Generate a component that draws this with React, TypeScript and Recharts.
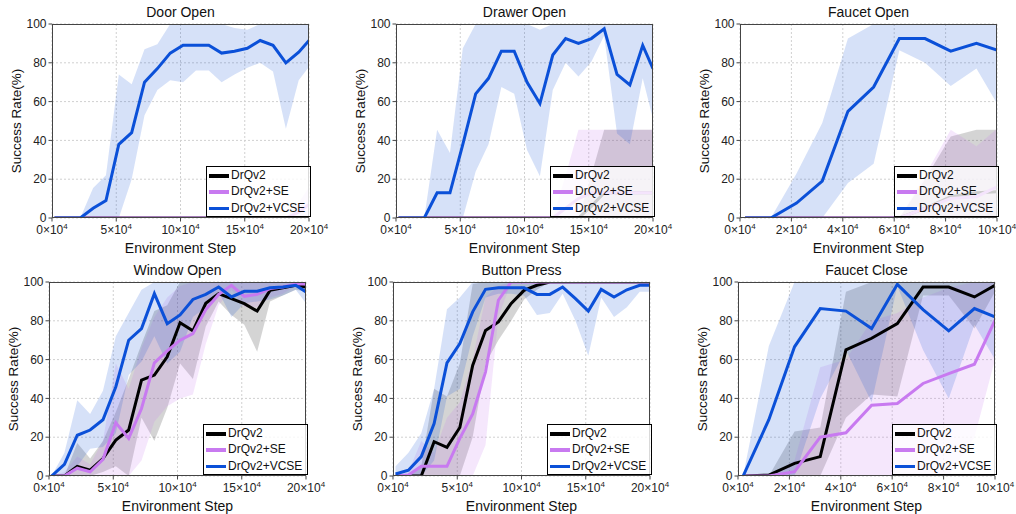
import React from 'react';
import { ComposedChart, Line, Area, XAxis, YAxis, CartesianGrid } from 'recharts';

// x positions (in units of 10^4 env steps)
const X20 = [0.2, 1.2, 2.2, 3.2, 4.2, 5.2, 6.2, 7.2, 8.2, 9.2, 10.2, 11.2, 12.2, 13.2, 14.2, 15.2, 16.2, 17.2, 18.2, 19.2, 20];
const X10 = [0.2, 1.2, 2.2, 3.2, 4.2, 5.2, 6.2, 7.2, 8.2, 9.2, 10];
const TICKS20 = [0, 5, 10, 15, 20];
const TICKS10 = [0, 2, 4, 6, 8, 10];
const YTICKS = [0, 20, 40, 60, 80, 100];

// Door Open
const doorDrq = [0, 0, 0, 0, 0, 0, 0, 0, 0, 0, 0, 0, 0, 0, 0, 0, 0, 0, 0, 0, 0];
const doorDrqLo = [0, 0, 0, 0, 0, 0, 0, 0, 0, 0, 0, 0, 0, 0, 0, 0, 0, 0, 0, 0, 0];
const doorDrqHi = [0, 0, 0, 0, 0, 0, 0, 0, 0, 0, 0, 0, 0, 0, 0, 0, 0, 0, 0, 0, 0];
const doorSe = [0, 0, 0, 0, 0, 0, 0, 0, 0, 0, 0, 0, 0, 0, 0, 0, 0, 0, 0, 3, 7];
const doorSeLo = [0, 0, 0, 0, 0, 0, 0, 0, 0, 0, 0, 0, 0, 0, 0, 0, 0, 0, 0, 0, 0];
const doorSeHi = [0, 0, 0, 0, 0, 0, 0, 0, 0, 0, 0, 0, 0, 0, 0, 0, 0, 0, 0, 8, 16];
const doorVcse = [0, 0, 0, 5, 9, 38, 44, 70, 77, 85, 89, 89, 89, 85, 86, 87.5, 91.5, 89, 80, 85.5, 91.5];
const doorVcseLo = [0, 0, 0, 0, 0, 0, 20, 53, 66, 71, 70, 76, 76, 70, 74, 77.5, 80, 75.5, 46, 71, 78];
const doorVcseHi = [0, 0, 0, 15.5, 22, 74, 69, 87, 89.5, 100, 100, 100, 100, 100, 98, 97, 100, 100, 100, 100, 100];

// Drawer Open
const drawerDrq = [0, 0, 0, 0, 0, 0, 0, 0, 0, 0, 0, 0, 0, 0, 0, 6, 13, 13, 13, 13, 13];
const drawerDrqLo = [0, 0, 0, 0, 0, 0, 0, 0, 0, 0, 0, 0, 0, 0, 0, 0, 0, 0, 0, 0, 0];
const drawerDrqHi = [0, 0, 0, 0, 0, 0, 0, 0, 0, 0, 0, 0, 0, 0, 0, 22, 45.5, 45.5, 45.5, 45.5, 45.5];
const drawerSe = [0, 0, 0, 0, 0, 0, 0, 0, 0, 0, 0, 0, 0, 5, 10, 13, 13, 13, 13, 13, 13];
const drawerSeLo = [0, 0, 0, 0, 0, 0, 0, 0, 0, 0, 0, 0, 0, 0, 0, 0, 0, 0, 0, 0, 0];
const drawerSeHi = [0, 0, 0, 0, 0, 0, 0, 0, 0, 0, 0, 0, 0, 22, 45.5, 45.5, 45.5, 45.5, 45.5, 45.5, 45.5];
const drawerVcse = [0, 0, 0, 13, 13, 38, 64, 72, 86, 86, 70, 59, 84, 92.5, 90, 92.5, 97.5, 74, 68.6, 89, 77];
const drawerVcseLo = [0, 0, 0, 0, 0, 0, 24, 38, 67.5, 64, 35, 21.5, 66, 80, 73, 80.5, 94, 43.5, 38, 72, 51];
const drawerVcseHi = [0, 0, 0, 45.5, 33.5, 87.5, 100, 100, 100, 100, 100, 97, 100, 100, 100, 100, 100, 100, 100, 100, 100];

// Faucet Open
const fOpenDrq = [0, 0, 0, 0, 0, 0, 0, 5, 11, 13, 13.5];
const fOpenDrqLo = [0, 0, 0, 0, 0, 0, 0, 0, 0, 0, 0];
const fOpenDrqHi = [0, 0, 0, 0, 0, 0, 0, 20, 42, 45.5, 45.5];
const fOpenSe = [0, 0, 0, 0, 0, 0, 0, 5, 10, 11, 16];
const fOpenSeLo = [0, 0, 0, 0, 0, 0, 0, 0, 0, 0, 0];
const fOpenSeHi = [0, 0, 0, 0, 0, 0, 0, 22, 45.5, 37, 46];
const fOpenVcse = [0, 0, 7.7, 19, 55, 67.5, 92.5, 92.5, 86, 90, 86.5];
const fOpenVcseLo = [0, 0, 0, 0, 18, 28, 86.5, 80, 68, 77, 59];
const fOpenVcseHi = [0, 0, 23, 49, 92.5, 100, 100, 100, 100, 100, 100];

// Window Open
const winDrq = [0, 0, 5, 3, 9, 18.5, 23.7, 49.4, 52, 61.4, 79, 74.8, 89, 94, 91.4, 88.8, 85, 95.7, 97, 98.3, 97.4];
const winDrqLo = [0, 0, 0, 0, 2, 5, 0, 30, 18, 35, 58, 50, 77, 90, 83, 78, 64, 90, 93, 96, 95];
const winDrqHi = [0, 0, 17, 9, 18, 33, 50, 68, 85, 88, 100, 100, 100, 100, 100, 100, 100, 100, 100, 100, 100];
const winSe = [0, 0, 4, 2.2, 8.6, 27.4, 19.4, 34.8, 58.3, 64.5, 70, 73.4, 85.8, 93.6, 98.3, 92.6, 93.6, 96.6, 97.4, 99, 99];
const winSeLo = [0, 0, 0, 0, 0, 0, 0, 8, 28, 36, 40, 42, 68, 88, 96, 87, 87, 92, 94, 98, 98];
const winSeHi = [0, 2, 10, 6, 18, 58, 45, 66, 82, 92, 98, 100, 100, 100, 100, 100, 100, 100, 100, 100, 100];
const winVcse = [0, 6, 21, 23.7, 29, 46, 70, 76, 94, 78.5, 83, 91, 93.6, 97.4, 92.3, 95.2, 95.2, 97, 97.4, 98.3, 94.9];
const winVcseLo = [0, 0, 5, 14, 15, 22, 52, 59, 72, 58, 64, 82, 87, 95, 82, 89, 90, 91, 93, 96, 89];
const winVcseHi = [0, 12, 39, 32, 44, 72, 84, 96, 100, 100, 100, 100, 100, 100, 100, 100, 100, 100, 100, 100, 100];

// Button Press
const btnDrq = [0, 0, 0, 17.7, 14.8, 25, 57, 75, 79.4, 89, 95.7, 98.3, 100, 100, 100, 100, 100, 100, 100, 100, 100];
const btnDrqLo = [0, 0, 0, 0, 0, 0, 20, 58, 70, 80, 91, 96, 100, 100, 100, 100, 100, 100, 100, 100, 100];
const btnDrqHi = [0, 0, 5, 45, 41, 58, 99, 100, 100, 100, 100, 100, 100, 100, 100, 100, 100, 100, 100, 100, 100];
const btnSe = [0, 0.5, 5, 5, 5, 19.4, 32, 53.7, 90.6, 100, 100, 100, 100, 100, 100, 100, 100, 100, 100, 100, 100];
const btnSeLo = [0, 0, 0, 0, 0, 0, 0, 16, 82, 100, 100, 100, 100, 100, 100, 100, 100, 100, 100, 100, 100];
const btnSeHi = [0, 2, 18, 12, 30, 38, 60, 92, 98, 100, 100, 100, 100, 100, 100, 100, 100, 100, 100, 100, 100];
const btnVcse = [1, 3, 10, 27, 58.3, 68.3, 84.6, 96.2, 97, 97, 97, 93.6, 93.6, 97.4, 91.4, 85, 96.2, 92.3, 96, 98.3, 98.3];
const btnVcseLo = [0, 0, 0, 8, 41, 45, 72, 92, 94, 94, 93, 83, 84, 94, 80, 62, 92, 82, 87, 95, 95];
const btnVcseHi = [5, 12, 22, 45, 86, 92, 100, 100, 100, 100, 100, 100, 100, 100, 100, 100, 100, 100, 100, 100, 100];

// Faucet Close
const fCloseDrq = [0, 0.5, 6.5, 10, 65, 71, 78.6, 97.4, 97.4, 92.3, 98.3];
const fCloseDrqLo = [0, 0, 0, 0, 30, 42, 41, 93, 93, 76, 95];
const fCloseDrqHi = [0, 0, 23, 25, 95, 100, 100, 100, 100, 100, 100];
const fCloseSe = [0, 0, 2.2, 20, 22.3, 36.5, 37.4, 47.7, 52.8, 57.6, 80.3];
const fCloseSeLo = [0, 0, 0, 0, 0, 0, 0, 0, 0, 20, 60];
const fCloseSeHi = [0, 0, 8, 56, 60, 80, 84, 92, 97, 100, 100];
const fCloseVcse = [0, 29, 66.6, 86.3, 85, 76, 98.8, 85.8, 74.8, 86.3, 82];
const fCloseVcseLo = [0, 0, 0, 40, 65, 38, 98, 65, 40, 78, 60];
const fCloseVcseHi = [0, 67, 100, 100, 100, 100, 100, 100, 100, 100, 100];

const FONT = '"Liberation Sans", Arial, sans-serif';
const BLACK = '#000000';
const PURPLE = '#c87af0';
const BLUE = '#0b50d8';
const SERIES = [
  { name: 'DrQv2', color: BLACK },
  { name: 'DrQv2+SE', color: PURPLE },
  { name: 'DrQv2+VCSE', color: BLUE },
];

const makeRows = (xs, drq, drqLo, drqHi, se, seLo, seHi, vcse, vcseLo, vcseHi) =>
  xs.map((x, i) => ({
    x,
    drq: drq[i], drqBand: [drqLo[i], drqHi[i]],
    se: se[i], seBand: [seLo[i], seHi[i]],
    vcse: vcse[i], vcseBand: [vcseLo[i], vcseHi[i]],
  }));

const PW = 257;
const PH = 194;
const RIGHT = 30;

const XTick = (props) => {
  const { x, y, payload } = props;
  return (
    <text x={x} y={y + 10} textAnchor="middle" fontSize={12} fill="#222" fontFamily={FONT}>
      <tspan>{payload.value}×10</tspan>
      <tspan dy={-5} fontSize={8}>4</tspan>
    </text>
  );
};

const Legend = () => (
  <div style={{
    position: 'absolute', left: 50 + PW - 103, top: 24 + PH - 52, width: 105, height: 51,
    border: '1px solid #000', background: 'rgba(255,255,255,0.8)', boxSizing: 'border-box',
  }}>
    {SERIES.map((s, i) => (
      <div key={s.name} style={{ position: 'absolute', left: 0, top: 1 + i * 16.3, height: 15, width: 104 }}>
        <div style={{ position: 'absolute', left: 2, top: 6, width: 20, height: 3.5, background: s.color }} />
        <div style={{ position: 'absolute', left: 24, top: 0, fontSize: 12, lineHeight: '15px', color: '#111', whiteSpace: 'nowrap' }}>{s.name}</div>
      </div>
    ))}
  </div>
);

const Panel = ({ px, py, title, data, xMax, xTicks }) => (
  <div style={{ position: 'absolute', left: px - 50, top: py - 24, width: PW + 50 + RIGHT, height: PH + 66, fontFamily: FONT }}>
    <ComposedChart width={PW + 50 + RIGHT} height={PH + 66} data={data} margin={{ top: 24, right: RIGHT, bottom: 0, left: 0 }}>
      <CartesianGrid strokeDasharray="2 2" stroke="#d0d0d0" />
      <XAxis type="number" dataKey="x" domain={[0, xMax]} ticks={xTicks} height={42} axisLine={false}
        tickLine={{ stroke: '#444' }} tickSize={3.5} tick={<XTick />} allowDataOverflow />
      <YAxis type="number" domain={[0, 100]} ticks={YTICKS} width={50} axisLine={false}
        tickLine={{ stroke: '#444' }} tickSize={3.5} tickMargin={2}
        tick={{ fontSize: 12, fill: '#222', fontFamily: FONT }} allowDataOverflow />
      <Area type="linear" dataKey="drqBand" stroke="none" fill={BLACK} fillOpacity={0.17} isAnimationActive={false} />
      <Area type="linear" dataKey="seBand" stroke="none" fill={PURPLE} fillOpacity={0.18} isAnimationActive={false} />
      <Area type="linear" dataKey="vcseBand" stroke="none" fill={BLUE} fillOpacity={0.17} isAnimationActive={false} />
      <Line type="linear" dataKey="drq" stroke={BLACK} strokeWidth={3} dot={false} isAnimationActive={false} />
      <Line type="linear" dataKey="se" stroke={PURPLE} strokeWidth={3} dot={false} isAnimationActive={false} />
      <Line type="linear" dataKey="vcse" stroke={BLUE} strokeWidth={3} dot={false} isAnimationActive={false} />
    </ComposedChart>
    <div style={{ position: 'absolute', left: 50, top: 24, width: PW, height: PH, border: '1px solid #444', boxSizing: 'border-box', pointerEvents: 'none' }} />
    <div style={{ position: 'absolute', left: 50, top: 3, width: PW, textAlign: 'center', fontSize: 14, lineHeight: '18px', color: '#111' }}>{title}</div>
    <div style={{ position: 'absolute', left: 50, top: 24 + PH + 21, width: PW, textAlign: 'center', fontSize: 14, lineHeight: '18px', color: '#111' }}>Environment Step</div>
    <div style={{
      position: 'absolute', left: 13.5, top: 24 + PH / 2, transform: 'translate(-50%, -50%) rotate(-90deg)',
      fontSize: 13.5, whiteSpace: 'nowrap', color: '#111',
    }}>Success Rate(%)</div>
    <Legend />
  </div>
);

const PANELS = [
  { px: 52, py: 24, title: 'Door Open', xMax: 20, xTicks: TICKS20,
    data: makeRows(X20, doorDrq, doorDrqLo, doorDrqHi, doorSe, doorSeLo, doorSeHi, doorVcse, doorVcseLo, doorVcseHi) },
  { px: 396, py: 24, title: 'Drawer Open', xMax: 20, xTicks: TICKS20,
    data: makeRows(X20, drawerDrq, drawerDrqLo, drawerDrqHi, drawerSe, drawerSeLo, drawerSeHi, drawerVcse, drawerVcseLo, drawerVcseHi) },
  { px: 740, py: 24, title: 'Faucet Open', xMax: 10, xTicks: TICKS10,
    data: makeRows(X10, fOpenDrq, fOpenDrqLo, fOpenDrqHi, fOpenSe, fOpenSeLo, fOpenSeHi, fOpenVcse, fOpenVcseLo, fOpenVcseHi) },
  { px: 49, py: 282, title: 'Window Open', xMax: 20, xTicks: TICKS20,
    data: makeRows(X20, winDrq, winDrqLo, winDrqHi, winSe, winSeLo, winSeHi, winVcse, winVcseLo, winVcseHi) },
  { px: 393, py: 282, title: 'Button Press', xMax: 20, xTicks: TICKS20,
    data: makeRows(X20, btnDrq, btnDrqLo, btnDrqHi, btnSe, btnSeLo, btnSeHi, btnVcse, btnVcseLo, btnVcseHi) },
  { px: 738, py: 282, title: 'Faucet Close', xMax: 10, xTicks: TICKS10,
    data: makeRows(X10, fCloseDrq, fCloseDrqLo, fCloseDrqHi, fCloseSe, fCloseSeLo, fCloseSeHi, fCloseVcse, fCloseVcseLo, fCloseVcseHi) },
];

export default function App() {
  return (
    <div style={{ position: 'absolute', left: 0, top: 0, width: 1016, height: 514, background: '#fff', overflow: 'hidden' }}>
      {PANELS.map((p) => (
        <Panel key={p.title} {...p} />
      ))}
    </div>
  );
}
